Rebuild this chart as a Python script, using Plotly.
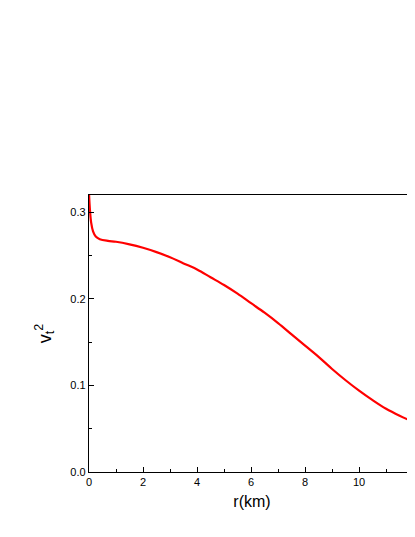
import plotly.graph_objects as go

r = [0.0, 0.03, 0.08, 0.15, 0.25, 0.4, 0.7, 1.0, 1.5, 2.0, 2.5, 3.0, 3.5, 4.0, 4.5, 5.0, 5.5, 6.0, 6.5, 7.0, 7.5, 8.0, 8.5, 9.0, 9.5, 10.0, 10.5, 11.0, 11.5, 12.0, 12.5, 13.0]
v2 = [0.322, 0.305, 0.288, 0.278, 0.272, 0.269, 0.267, 0.266, 0.263, 0.259, 0.254, 0.248, 0.241, 0.234, 0.225, 0.216, 0.206, 0.195, 0.184, 0.172, 0.159, 0.146, 0.133, 0.119, 0.106, 0.094, 0.083, 0.073, 0.065, 0.058, 0.052, 0.047]

fig = go.Figure(go.Scatter(x=r, y=v2, mode="lines", line=dict(color="#ff0000", width=2.2, shape="spline")))
ax = dict(showgrid=False, zeroline=False, showline=True, linecolor="black", linewidth=1.3, mirror=True,
          ticks="inside", ticklen=5, tickcolor="black", tickfont=dict(family="Liberation Sans, Arial", size=11, color="black"))
fig.update_xaxes(**ax, range=[0, 12.07], tick0=0, dtick=2, minor=dict(dtick=1, ticks="inside", ticklen=3, tickcolor="black"),
                 title=dict(text="r(km)", font=dict(family="Liberation Sans, Arial", size=16, color="black"), standoff=8))
fig.update_yaxes(**ax, range=[0, 0.32], tick0=0, dtick=0.1, tickformat=".1f", minor=dict(dtick=0.05, ticks="inside", ticklen=3, tickcolor="black"),
                 title=dict(text="v<sub>t</sub><sup>2</sup>", font=dict(family="Liberation Sans, Arial", size=18, color="black"), standoff=14))
fig.update_layout(width=407, height=529, margin=dict(l=81, r=0, t=187, b=65, autoexpand=False), plot_bgcolor="white", paper_bgcolor="white", showlegend=False)
fig.write_html("out.html")
